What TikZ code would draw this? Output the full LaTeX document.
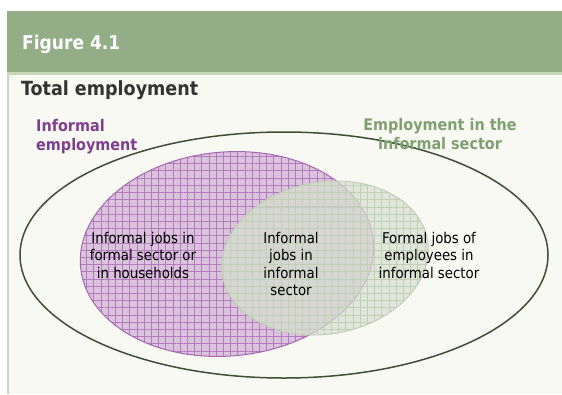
\documentclass[tikz,border=0pt]{standalone}
\usepackage{fontspec}
\setmainfont{DejaVu Sans Condensed}
\usetikzlibrary{patterns.meta}

\definecolor{headgreen}{HTML}{93AD87}
\definecolor{palegreen}{HTML}{C6D8BC}
\definecolor{bodybg}{HTML}{F8F9F3}
\definecolor{rimgreen}{HTML}{3E5034}
\definecolor{infpurple}{HTML}{7E3F8E}
\definecolor{secgreen}{HTML}{7FA070}
\definecolor{purplefill}{HTML}{DCC4DF}
\definecolor{purpleline}{HTML}{A565B0}
\definecolor{greenfill}{HTML}{D6DFCE}
\definecolor{greenline}{HTML}{BFD0B6}

\begin{document}
\begin{tikzpicture}[x=1pt, y=-1pt,
    bodytext/.style={font=\fontsize{14.8}{17.5}\selectfont, align=center, text=black},
    setlabel/.style={font=\fontsize{16}{19}\selectfont\bfseries}]
  \useasboundingbox (0,0) rectangle (562,394);

  % frame
  \fill[white] (0,0) rectangle (562,394);
  \fill[headgreen] (7,11) rectangle (562,72);
  \fill[palegreen] (7,72) rectangle (562,75);
  \fill[bodybg] (9,75) rectangle (562,394);
  \fill[palegreen] (7,75) rectangle (9,394);
  \node[anchor=base west, inner sep=0pt, text=white, font=\fontsize{19}{23}\selectfont\bfseries] (fig) at (22,49) {Figure 4.1};
  \node[anchor=base west, inner sep=0pt, text=black!80, font=\fontsize{19.5}{23}\selectfont\bfseries] (total) at (21,95) {Total employment};

  % sets
  \draw[rimgreen, line width=1.5pt] (284,255) ellipse [x radius=264, y radius=123];

  \begin{scope}[rotate around={5:(227,254)}]
    \fill[purplefill] (227,254) ellipse [x radius=147, y radius=102];
    \fill[pattern={Dots[distance=2.4pt, radius=0.5pt]}, pattern color=purpleline!45] (227,254) ellipse [x radius=147, y radius=102];
    \fill[pattern={Hatch[distance=7.2pt, line width=0.6pt]}, pattern color=purpleline!85] (227,254) ellipse [x radius=147, y radius=102];
    \draw[purpleline, line width=1pt] (227,254) ellipse [x radius=147, y radius=102];
  \end{scope}

  \begin{scope}[rotate around={10:(325,258)}]
    \fill[greenfill, fill opacity=0.7] (325,258) ellipse [x radius=104, y radius=76];
    \fill[pattern={Hatch[distance=7.2pt, line width=0.4pt]}, pattern color=greenline, fill opacity=0.6] (325,258) ellipse [x radius=104, y radius=76];
    \draw[greenline, line width=1pt] (325,258) ellipse [x radius=104, y radius=76];
  \end{scope}

  % labels
  \node[setlabel, text=infpurple, align=left, anchor=base west, inner sep=0pt] (inflab) at (36,150) {Informal\\employment};
  \node[setlabel, text=secgreen, align=center, anchor=base, inner sep=0pt] (seclab) at (440,149) {Employment in the\\informal sector};

  \node[bodytext] (hhjobs) at (143,255) {Informal jobs in\\formal sector or\\in households};
  \node[bodytext] (infjobs) at (291,264) {Informal\\jobs in\\informal\\sector};
  \node[bodytext] (formjobs) at (429,255) {Formal jobs of\\employees in\\informal sector};
\end{tikzpicture}
\end{document}
